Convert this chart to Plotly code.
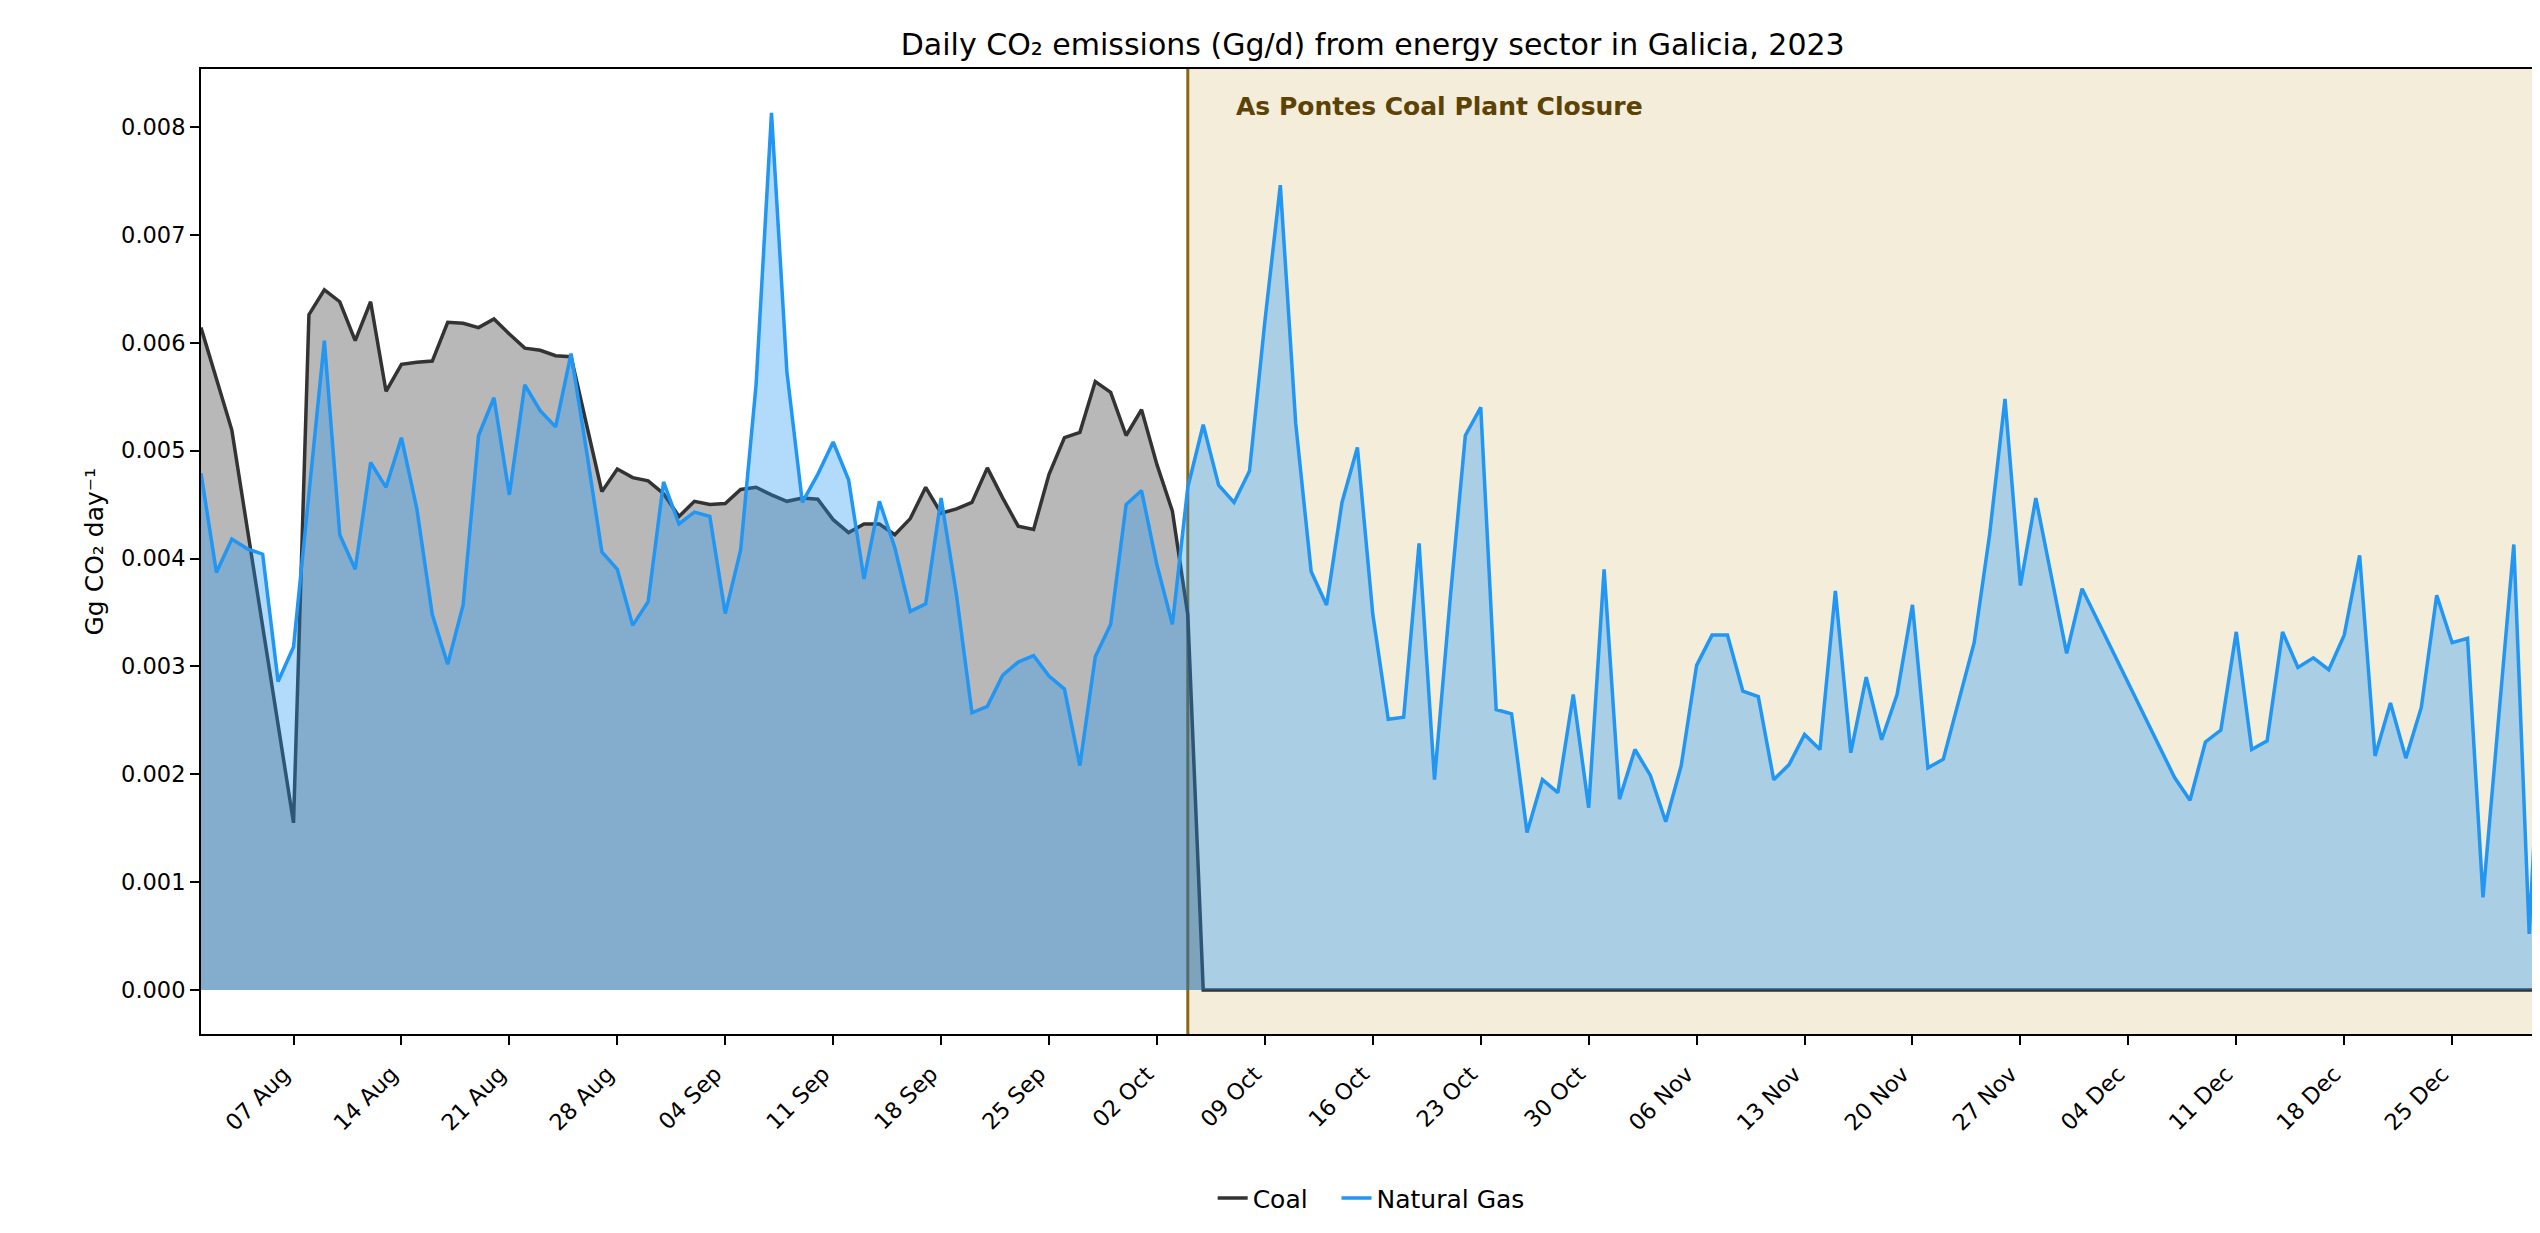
import pandas as pd
import plotly.graph_objects as go

# ---------------- data (Gg CO2 per day) ----------------
start = pd.Timestamp("2023-08-01")
all_days = pd.date_range("2023-08-01", "2023-12-31", freq="D")

gas_missing = ["2023-12-02", "2023-12-03", "2023-12-04", "2023-12-05", "2023-12-06", "2023-12-28"]
gas_dates = [d for d in all_days if d.strftime("%Y-%m-%d") not in gas_missing]
gas_values = [
    0.00479, 0.00387, 0.00418, 0.00409, 0.00404, 0.00286, 0.00318, 0.00460, 0.00602, 0.00422,
    0.00390, 0.00489, 0.00466, 0.00512, 0.00446, 0.00348, 0.00302, 0.00357, 0.00514, 0.00549,
    0.00459, 0.00561, 0.00537, 0.00522, 0.00590, 0.00500, 0.00406, 0.00390, 0.00338, 0.00360,
    0.00471, 0.00432, 0.00443, 0.00439, 0.00349, 0.00408, 0.00561, 0.00813, 0.00573, 0.00452,
    0.00478, 0.00508, 0.00473, 0.00381, 0.00453, 0.00410, 0.00351, 0.00358, 0.00456, 0.00366,
    0.00257, 0.00263, 0.00292, 0.00304, 0.00310, 0.00291, 0.00279, 0.00208, 0.00309, 0.00339,
    0.00450, 0.00463, 0.00394, 0.00339, 0.00466, 0.00524, 0.00468, 0.00452, 0.00481, 0.00620,
    0.00746, 0.00525, 0.00388, 0.00357, 0.00452, 0.00503, 0.00348, 0.00251, 0.00253, 0.00414,
    0.00195, 0.00360, 0.00514, 0.00540, 0.00260, 0.00256, 0.00146, 0.00195, 0.00183, 0.00274,
    0.00169, 0.00390, 0.00177, 0.00223, 0.00199, 0.00156, 0.00208, 0.00301, 0.00329, 0.00329,
    0.00277, 0.00272, 0.00195, 0.00209, 0.00237, 0.00223, 0.00370, 0.00220, 0.00290, 0.00232,
    0.00274, 0.00357, 0.00206, 0.00214, 0.00268, 0.00322, 0.00422, 0.00548, 0.00375, 0.00456,
    0.00384, 0.00312, 0.00372,
    0.00197, 0.00176, 0.00230, 0.00241, 0.00332, 0.00223, 0.00231, 0.00332, 0.00299, 0.00308,
    0.00297, 0.00329, 0.00403, 0.00217, 0.00266, 0.00215, 0.00262, 0.00366, 0.00322, 0.00326,
    0.00086, 0.00413, 0.00052, 0.00330,
]

coal_missing = ["2023-08-02", "2023-08-04", "2023-08-05", "2023-08-06"]
coal_dates = [d for d in all_days if d.strftime("%Y-%m-%d") not in coal_missing]
coal_values = [
    0.00614, 0.00519, 0.00155, 0.00626, 0.00649, 0.00638, 0.00602, 0.00638, 0.00555, 0.00580,
    0.00582, 0.00583, 0.00619, 0.00618, 0.00614, 0.00622, 0.00608, 0.00595, 0.00593, 0.00588,
    0.00587, 0.00525, 0.00462, 0.00483, 0.00475, 0.00472, 0.00460, 0.00439, 0.00453, 0.00450,
    0.00451, 0.00464, 0.00466, 0.00459, 0.00453, 0.00456, 0.00455, 0.00436, 0.00424, 0.00432,
    0.00432, 0.00422, 0.00437, 0.00466, 0.00442, 0.00446, 0.00452, 0.00484, 0.00456, 0.00430,
    0.00427, 0.00478, 0.00512, 0.00517, 0.00564, 0.00554, 0.00514, 0.00538, 0.00487, 0.00444,
    0.00348,
    # after closure (05 Oct - 31 Dec)
    0.0, 0.0, 0.0, 0.0, 0.0, 0.0, 0.0, 0.0, 0.0, 0.0,
    0.0, 0.0, 0.0, 0.0, 0.0, 0.0, 0.0, 0.0, 0.0, 0.0,
    0.0, 0.0, 0.0, 0.0, 0.0, 0.0, 0.0, 0.0, 0.0, 0.0,
    0.0, 0.0, 0.0, 0.0, 0.0, 0.0, 0.0, 0.0, 0.0, 0.0,
    0.0, 0.0, 0.0, 0.0, 0.0, 0.0, 0.0, 0.0, 0.0, 0.0,
    0.0, 0.0, 0.0, 0.0, 0.0, 0.0, 0.0, 0.0, 0.0, 0.0,
    0.0, 0.0, 0.0, 0.0, 0.0, 0.0, 0.0, 0.0, 0.0, 0.0,
    0.0, 0.0, 0.0, 0.0, 0.0, 0.0, 0.0, 0.0, 0.0, 0.0,
    0.0, 0.0, 0.0, 0.0, 0.0, 0.0, 0.0, 0.0,
]

closure_date = "2023-10-04"
annotation_date = "2023-10-07"
tick_dates = pd.date_range("2023-08-07", "2023-12-25", freq="7D")
y_ticks = [0.000, 0.001, 0.002, 0.003, 0.004, 0.005, 0.006, 0.007, 0.008]

# ---------------- figure ----------------
FONT = "DejaVu Sans"
COAL = "#333333"
GAS = "#2196F3"

fig = go.Figure()
fig.add_trace(go.Scatter(x=coal_dates, y=coal_values, mode="lines", fill="tozeroy",
                         fillcolor="rgba(51,51,51,0.35)", line=dict(width=0, color=COAL),
                         showlegend=False, hoverinfo="skip"))
fig.add_trace(go.Scatter(x=coal_dates, y=coal_values, mode="lines", name="Coal   ",
                         line=dict(color=COAL, width=3.5)))
fig.add_trace(go.Scatter(x=gas_dates, y=gas_values, mode="lines", fill="tozeroy",
                         fillcolor="rgba(33,150,243,0.35)", line=dict(width=0, color=GAS),
                         showlegend=False, hoverinfo="skip"))
fig.add_trace(go.Scatter(x=gas_dates, y=gas_values, mode="lines", name="Natural Gas",
                         line=dict(color=GAS, width=3.5)))

x_end = start + pd.Timedelta(days=151.18)

fig.add_shape(type="rect", xref="x", yref="paper", x0=closure_date, x1=x_end, y0=0, y1=1,
              fillcolor="#f3edda", line=dict(width=0), layer="below")
fig.add_shape(type="line", xref="x", yref="paper", x0=closure_date, x1=closure_date, y0=0, y1=1,
              line=dict(color="#8b6914", width=3), layer="below")

fig.add_annotation(x=annotation_date, y=0.00819, xref="x", yref="y",
                   text="<b>As Pontes Coal Plant Closure</b>", showarrow=False,
                   xanchor="left", yanchor="middle",
                   font=dict(family=FONT, size=25, color="#5c4305"))

fig.add_annotation(x=0, y=0.5, xref="paper", yref="paper", xshift=-107,
                   text="Gg CO₂ day⁻¹", textangle=-90, showarrow=False,
                   xanchor="center", yanchor="middle",
                   font=dict(family=FONT, size=25, color="black"))

fig.update_layout(
    width=2524, height=1217,
    margin=dict(l=193, r=0, t=61, b=191),
    paper_bgcolor="white", plot_bgcolor="white",
    font=dict(family=FONT, size=22.5, color="black"),
    title=dict(text="Daily CO₂ emissions (Gg/d) from energy sector in Galicia, 2023",
               x=0.5407, xref="container", xanchor="center",
               y=0.970, yref="container", yanchor="middle",
               font=dict(family=FONT, size=30, color="black")),
    legend=dict(orientation="h", x=0.502, y=-0.194, xanchor="center", yanchor="bottom",
                font=dict(family=FONT, size=25, color="black"), bgcolor="rgba(0,0,0,0)"),
    showlegend=True,
)

fig.update_xaxes(type="date", range=[start, x_end], tickvals=list(tick_dates),
                 tickformat="%d %b", tickangle=-45, ticks="outside", ticklen=9, tickwidth=2,
                 tickcolor="black", showline=True, linewidth=2, linecolor="black",
                 mirror=True, showgrid=False, zeroline=False, automargin=False,
                 ticklabelshift=-10, ticklabelstandoff=7,
                 tickfont=dict(family=FONT, size=22.5, color="black"))
fig.update_yaxes(range=[-0.000407, 0.008537], tickvals=y_ticks, tickformat=".3f",
                 ticks="outside", ticklen=9, tickwidth=2, tickcolor="black",
                 showline=True, linewidth=2, linecolor="black", mirror=False,
                 showgrid=False, zeroline=False, automargin=False,
                 tickfont=dict(family=FONT, size=22.5, color="black"))

fig.write_html("out.html")
